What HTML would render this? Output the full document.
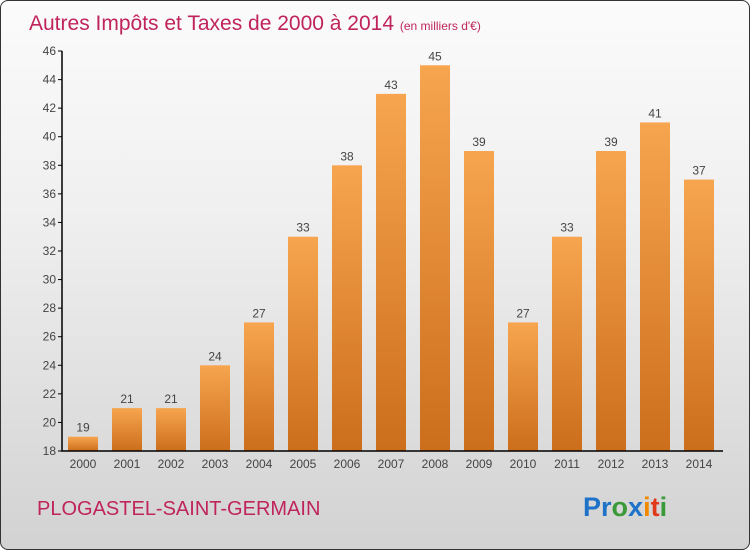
<!DOCTYPE html>
<html><head><meta charset="utf-8"><style>
body{margin:0;width:750px;height:550px;overflow:hidden;font-family:"Liberation Sans",sans-serif}
#frame{position:absolute;left:0;top:0;width:748px;height:548px;border:1px solid #333;border-radius:8px;background:linear-gradient(#fbfbfb,#efefef 40%,#d2d2d2);overflow:hidden}
</style></head><body>
<div id="frame">
<svg width="750" height="550" id="svg">
<defs><linearGradient id="bg" x1="0" y1="0" x2="0" y2="1"><stop offset="0" stop-color="#f7a54f"/><stop offset="1" stop-color="#cc6e1c"/></linearGradient></defs>
<text x="28" y="29" font-size="21" fill="#c0245c">Autres Impôts et Taxes de 2000 à 2014 <tspan font-size="12">(en milliers d'€)</tspan></text>
<text x="36" y="514" font-size="20" fill="#c0245c">PLOGASTEL-SAINT-GERMAIN</text>
<text x="582" y="515" font-size="27" font-weight="bold"><tspan fill="#1e73c8">Pr</tspan><tspan fill="#3a9a3a">o</tspan><tspan fill="#1e73c8">x</tspan><tspan fill="#f08a00">i</tspan><tspan fill="#e03a1a">t</tspan><tspan fill="#3a9a3a">i</tspan></text>
<g id="g"></g>
</svg></div>
<script>
const years=["2000","2001","2002","2003","2004","2005","2006","2007","2008","2009","2010","2011","2012","2013","2014"];
const values=[19,21,21,24,27,33,38,43,45,39,27,33,39,41,37];
const ticks=[18,20,22,24,26,28,30,32,34,36,38,40,42,44,46];
const NS="http://www.w3.org/2000/svg",g=document.getElementById('g');
const y=v=>450-(v-18)*400/28, x=i=>82+i*44;
function mk(t,a,txt){const e=document.createElementNS(NS,t);for(const k in a)e.setAttribute(k,a[k]);if(txt!==undefined)e.textContent=txt;g.appendChild(e);return e;}
ticks.forEach(t=>{
const l=mk('line',{x1:57,x2:61,y1:y(t),y2:y(t),stroke:'#000'});


const s=mk('text',{x:55,y:y(t)+4,'font-size':12,fill:'#444','text-anchor':'end'},t);


});
values.forEach((v,i)=>{
const r=mk('rect',{x:x(i)-15,y:y(v),width:30,height:450-y(v),fill:'url(#bg)'});


const s=mk('text',{x:x(i),y:y(v)-5,'font-size':12,fill:'#444','text-anchor':'middle'},v);


const c=mk('text',{x:x(i),y:467,'font-size':12,fill:'#444','text-anchor':'middle'},years[i]);


});
const ax=mk('path',{d:'M61 50 V450 H722',stroke:'#000',fill:'none','stroke-width':1.5});


</script>
</body></html>
